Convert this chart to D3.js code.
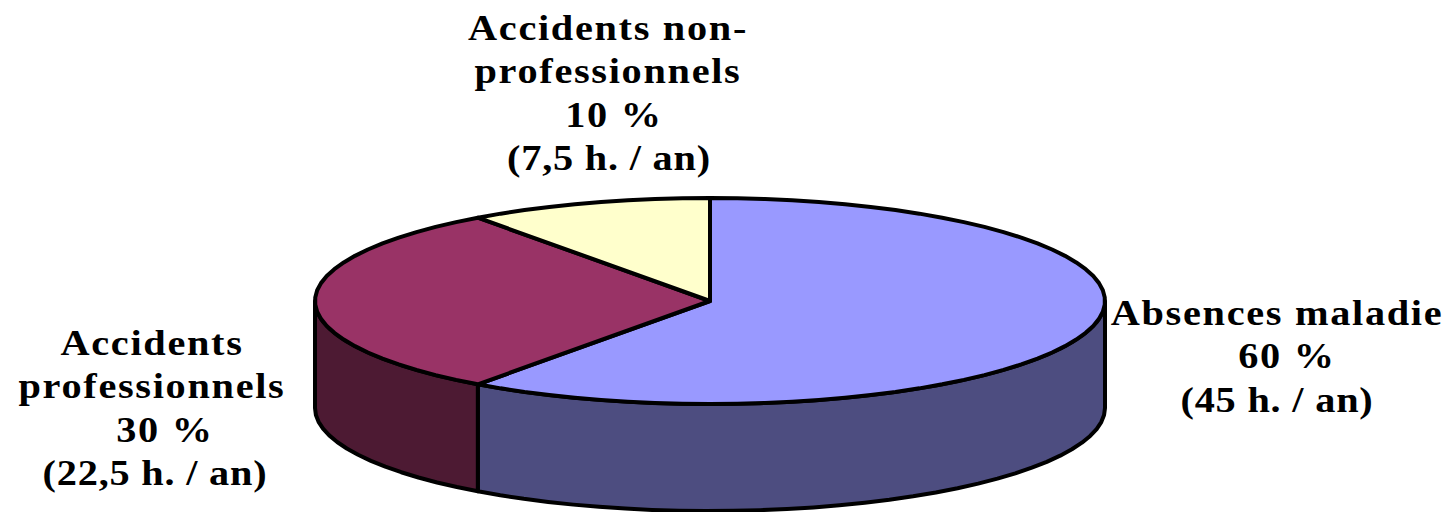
<!DOCTYPE html>
<html><head><meta charset="utf-8">
<script src="https://cdn.jsdelivr.net/npm/d3@7"></script>
<style>html,body{margin:0;padding:0;background:#fff;overflow:hidden}svg{display:block}</style>
</head><body><svg id="c" width="1448" height="512"></svg>
<script>
const categories = ["Absences maladie","Accidents professionnels","Accidents non-professionnels"];
const values = [60,30,10];
const topColors = ["#9999FF","#993366","#FFFFCC"];
const sideColors = ["#4D4D80","#4D1A33","#808066"];
const labelLines = [
  ["Absences maladie","60 %","(45 h. / an)"],
  ["Accidents","professionnels","30 %","(22,5 h. / an)"],
  ["Accidents non-","professionnels","10 %","(7,5 h. / an)"]
];
const labelCenters = [1277,152,608];
const percentShift = [10,13,6];
const hoursShift = [0,3,1];
const labelFirstBaselines = [325,355,40];
const lineHeight = 43.3;

const cx=710,cy=301,rx=395,ry=103,depth=107;
const svg=d3.select("#c");
const sx=d3.scaleLinear().domain([-1,1]).range([cx-rx,cx+rx]);
const sy=d3.scaleLinear().domain([-1,1]).range([cy-ry,cy+ry]);
const arcs=d3.pie().sort(null)(values);
const pt=(a,d=0)=>[sx(Math.sin(a)),sy(-Math.cos(a))+d];
const samples=(a0,a1,d=0)=>{const n=Math.max(2,Math.ceil(Math.abs(a1-a0)/0.07));return d3.range(n+1).map(i=>pt(a0+(a1-a0)*i/n,d));};
const line=d3.line();
const sw=4;

arcs.forEach((s,i)=>{
  const a0=Math.max(s.startAngle,Math.PI/2),a1=Math.min(s.endAngle,Math.PI*1.5);
  if(a1<=a0)return;
  const upper=samples(a0,a1,0),lower=samples(a1,a0,depth);
  svg.append("path").attr("d",line(upper.concat(lower))+"Z")
    .attr("fill",sideColors[i]).attr("stroke","#000").attr("stroke-width",sw).attr("stroke-linejoin","round");
});
arcs.forEach((s,i)=>{
  const p=[[cx,cy]].concat(samples(s.startAngle,s.endAngle,0));
  svg.append("path").attr("d",line(p)+"Z")
    .attr("fill",topColors[i]).attr("stroke","#000").attr("stroke-width",sw).attr("stroke-linejoin","round");
});
labelLines.forEach((lines,i)=>{
  lines.forEach((l,j)=>{
    const isPct=l.endsWith("%"), isHours=l.startsWith("(");
    const x=labelCenters[i]+(isPct?percentShift[i]:isHours?hoursShift[i]:0);
    svg.append("text").attr("text-anchor","middle")
      .attr("transform",`translate(${x},${labelFirstBaselines[i]+j*lineHeight}) scale(1.12,1)`)
      .attr("font-family","'Liberation Serif',serif").attr("font-weight","bold").attr("font-size",36)
      .attr("letter-spacing",isHours?0.7:1.5).attr("fill","#000").text(l);
  });
});
</script></body></html>
